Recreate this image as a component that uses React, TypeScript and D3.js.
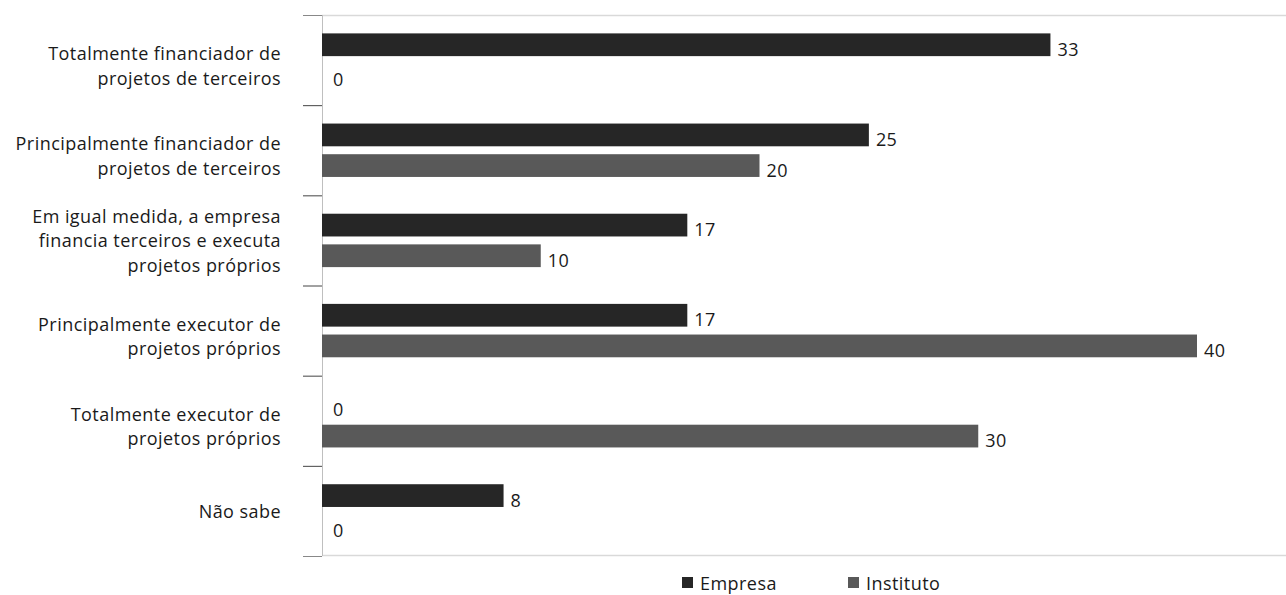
import React from "react";
import * as d3 from "d3";

const categories = [
  ["Totalmente financiador de", "projetos de terceiros"],
  ["Principalmente financiador de", "projetos de terceiros"],
  ["Em igual medida, a empresa", "financia terceiros e executa", "projetos próprios"],
  ["Principalmente executor de", "projetos próprios"],
  ["Totalmente executor de", "projetos próprios"],
  ["Não sabe"],
];
const seriesNames = ["Empresa", "Instituto"];
const empresa = [33.3, 25, 16.7, 16.7, 0, 8.3];
const instituto = [0, 20, 10, 40, 30, 0];
const colors = ["#262626", "#595959"];

const W = 1286;
const H = 595;
const FONT = "'Open Sans', sans-serif";
const FS = 18;
const LS = 0.45;

export default function App() {
  const x = d3.scaleLinear().domain([0, 40]).range([322, 1197]);
  const idx = categories.map((_, i) => i);
  const y = d3.scaleBand<number>().domain(idx).range([15, 556]).paddingInner(0).paddingOuter(0);
  const inner = d3
    .scaleBand<number>()
    .domain([0, 1])
    .range([0, y.bandwidth()])
    .paddingInner(0.258)
    .paddingOuter(0.6);
  const series = [empresa, instituto];
  const fmt = d3.format(".0f");
  const lineH = 24.5;
  const ticks = idx.map((i) => y(i)!).concat([556]);

  return (
    <svg width={W} height={H} style={{ position: "absolute", left: 0, top: 0, fontFamily: FONT }}>
      {/* frame lines */}
      <line x1={322} x2={W} y1={15.5} y2={15.5} stroke="#d9d9d9" strokeWidth={1.5} />
      <line x1={322} x2={W} y1={555.5} y2={555.5} stroke="#d9d9d9" strokeWidth={1.5} />
      <line x1={322.5} x2={322.5} y1={15} y2={556} stroke="#bfbfbf" strokeWidth={1} />
      {ticks.map((t, i) => (
        <line key={i} x1={303} x2={322} y1={t + 0.5} y2={t + 0.5} stroke={i === 0 || i === ticks.length - 1 ? "#888" : "#444"} strokeWidth={1} />
      ))}
      {/* bars */}
      {series.map((vals, s) =>
        vals.map((v, i) => {
          const yy = y(i)! + inner(s)!;
          return (
            <g key={`${s}-${i}`}>
              <rect x={x(0)} y={yy} width={x(v) - x(0)} height={inner.bandwidth()} fill={colors[s]} />
              <text
                x={x(v) + (v === 0 ? 11 : 7)}
                y={yy + inner.bandwidth() / 2 + 11}
                fontSize={FS}
                letterSpacing={LS}
                fill="#1a1a1a"
              >
                {fmt(v)}
              </text>
            </g>
          );
        })
      )}
      {/* category labels */}
      {categories.map((lines, i) => {
        const c = y(i)! + y.bandwidth() / 2;
        const first = lines.length === 2 ? c : c + 7 - ((lines.length - 1) * lineH) / 2;
        return (
          <text key={i} textAnchor="end" fontSize={FS} letterSpacing={LS} fill="#1a1a1a">
            {lines.map((l, j) => (
              <tspan key={j} x={281} y={first + j * lineH}>
                {l}
              </tspan>
            ))}
          </text>
        );
      })}
      {/* legend */}
      {seriesNames.map((n, s) => {
        const lx = [682, 848][s];
        return (
          <g key={n}>
            <rect x={lx} y={577} width={11} height={11} fill={colors[s]} />
            <text x={lx + 18} y={590} fontSize={FS} letterSpacing={LS} fill="#1a1a1a">
              {n}
            </text>
          </g>
        );
      })}
    </svg>
  );
}
